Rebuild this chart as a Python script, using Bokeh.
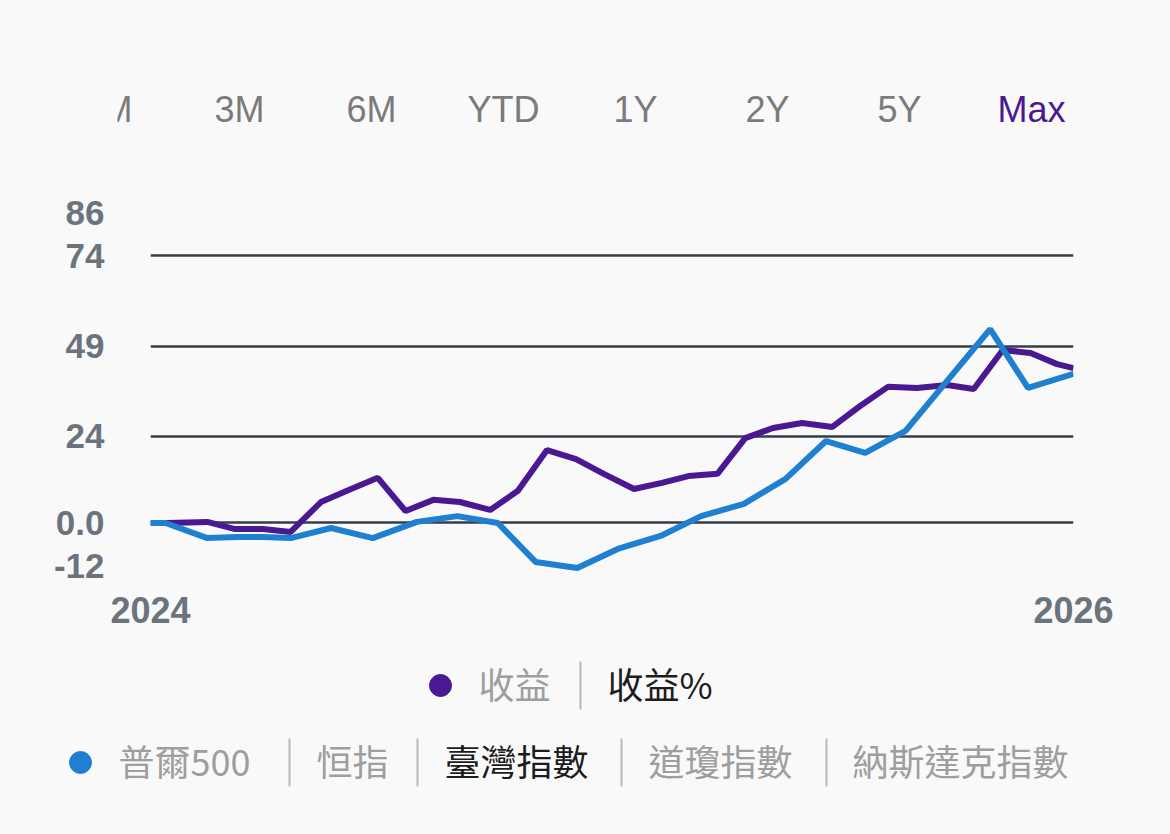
import pandas as pd
from bokeh.plotting import figure
from bokeh.layouts import column
from bokeh.models import Range1d, FixedTicker, CustomJSTickFormatter, ColumnDataSource
from bokeh.core.properties import value
from bokeh.embed import file_html
from bokeh.resources import INLINE

# ---- data -------------------------------------------------------------
range_tabs = ["1M", "3M", "6M", "YTD", "1Y", "2Y", "5Y", "Max"]
active_tab = "Max"

# portfolio return (%)
gain_dates = [
    "2024-01-01", "2024-01-14", "2024-02-15", "2024-03-08", "2024-03-30",
    "2024-04-21", "2024-05-15", "2024-06-06", "2024-06-29", "2024-07-21",
    "2024-08-12", "2024-09-02", "2024-09-26", "2024-10-18", "2024-11-10",
    "2024-12-03", "2024-12-25", "2025-01-18", "2025-02-09", "2025-03-02",
    "2025-03-25", "2025-04-16", "2025-05-08", "2025-05-31", "2025-06-24",
    "2025-07-16", "2025-08-07", "2025-08-30", "2025-09-23", "2025-10-14",
    "2025-11-06", "2025-11-28", "2025-12-19", "2026-01-01",
]
gain_pct = [
    0.0, 0.0, 0.3, -1.7, -1.7, -2.5, 5.8, 9.1, 12.5, 3.3,
    6.4, 5.8, 3.6, 8.9, 20.2, 17.7, 13.6, 9.4, 11.1, 13.0,
    13.6, 23.5, 26.3, 27.7, 26.6, 32.4, 37.7, 37.4, 38.2, 37.1,
    47.9, 47.1, 44.0, 42.9,
]

# benchmark index return (%)
index_dates = [
    "2024-01-01", "2024-01-13", "2024-02-15", "2024-03-10", "2024-03-30",
    "2024-04-21", "2024-05-23", "2024-06-25", "2024-07-30", "2024-08-31",
    "2024-10-02", "2024-11-01", "2024-12-04", "2025-01-05", "2025-02-08",
    "2025-03-12", "2025-04-15", "2025-05-18", "2025-06-19", "2025-07-20",
    "2025-08-21", "2025-10-27", "2025-11-26", "2026-01-01",
]
index_pct = [
    0.0, 0.0, -4.2, -3.9, -3.9, -4.2, -1.4, -4.2, 0.3, 1.9,
    0.0, -10.8, -12.5, -7.2, -3.6, 1.9, 5.3, 12.2, 22.7, 19.4,
    25.5, 53.7, 37.4, 41.3,
]

y_ticks = [-12, 0, 24, 49, 74, 86]
grid_levels = [0, 24, 49, 74]
x_start, x_end = "2024-01-01", "2026-01-01"

metric_labels = ["收益", "收益%"]
active_metric = "收益%"
index_labels = ["普爾500", "恒指", "臺灣指數", "道瓊指數", "納斯達克指數"]
active_index = "臺灣指數"

# ---- styles -----------------------------------------------------------
W = 1170
BG = "#f9f9f9"
PURPLE = "#4a1890"
BLUE = "#1f7fd0"
AXIS_TEXT = "#6b747d"
GRID = "#353e47"
MUTED = "#9e9e9e"
DARK = "#1c1c1c"
SEP = "#b8b8b8"
LATIN = value("Liberation Sans")
CJK = value("Noto Sans CJK TC")


def blank(height, x_range, y_range, **kw):
    # a bare canvas whose data units are pixels; its frame is not aligned
    # with the chart's frame in the column layout
    f = figure(width=W, height=height, x_range=x_range, y_range=y_range,
               x_axis_type=None, y_axis_type=None, toolbar_location=None,
               output_backend="svg", background_fill_color=BG,
               border_fill_color=BG, outline_line_color=None,
               min_border=0, frame_align=False, **kw)
    return f


# ---- range selector -----------------------------------------------------
TAB_H = 160
tabs = blank(TAB_H, Range1d(117, W), Range1d(TAB_H, 0), min_border_left=117)
tab_x = [107 + 132 * i for i in range(len(range_tabs))]
tabs.text(x=tab_x, y=[109] * len(range_tabs), text=range_tabs,
          text_color=[PURPLE if t == active_tab else "#7b7b7b" for t in range_tabs],
          text_font=LATIN, text_font_size="36px",
          text_align="center", text_baseline="middle")

# ---- main chart -------------------------------------------------------
MAIN_H = 480
main = figure(width=W, height=MAIN_H, x_axis_type="datetime",
              x_range=Range1d(pd.Timestamp(x_start), pd.Timestamp(x_end)),
              y_range=Range1d(-14, 86),
              toolbar_location=None, output_backend="svg",
              background_fill_color=BG, border_fill_color=BG,
              outline_line_color=None, frame_align=False,
              min_border_left=150, min_border_right=97,
              min_border_top=52, min_border_bottom=67)

for ax in (main.xaxis[0], main.yaxis[0]):
    ax.axis_line_color = None
    ax.major_tick_line_color = None
    ax.minor_tick_line_color = None
    ax.major_tick_out = 0
    ax.major_tick_in = 0
    ax.minor_tick_out = 0
    ax.major_label_text_font = "Liberation Sans"
    ax.major_label_text_font_style = "bold"
    ax.major_label_text_color = AXIS_TEXT

main.yaxis.ticker = FixedTicker(ticks=y_ticks)
main.yaxis.formatter = CustomJSTickFormatter(
    code="return tick == 0 ? '0.0' : String(tick);")
main.yaxis.major_label_standoff = 46
main.yaxis.major_label_text_font_size = "35px"

ms = [pd.Timestamp(x_start).value // 10**6, pd.Timestamp(x_end).value // 10**6]
main.xaxis.ticker = FixedTicker(ticks=ms)
main.xaxis.formatter = CustomJSTickFormatter(
    code="return String(new Date(tick).getUTCFullYear());")
main.xaxis.major_label_standoff = 23
main.xaxis.major_label_text_font_size = "36px"

main.xgrid.visible = False
main.ygrid.ticker = FixedTicker(ticks=grid_levels)
main.ygrid.grid_line_color = GRID
main.ygrid.grid_line_width = 2.5

gain_src = ColumnDataSource(dict(date=pd.to_datetime(gain_dates), pct=gain_pct))
index_src = ColumnDataSource(dict(date=pd.to_datetime(index_dates), pct=index_pct))
main.line("date", "pct", source=gain_src, line_color=PURPLE, line_width=6)
main.line("date", "pct", source=index_src, line_color=BLUE, line_width=6)

# ---- series pickers ---------------------------------------------------
LEG_H = 834 - TAB_H - MAIN_H
legend = blank(LEG_H, Range1d(0, W), Range1d(LEG_H, 0))

row1_y, row2_y = 45, 122
text_lift = 3  # CJK glyphs sit a little low on a "middle" baseline

legend.scatter(x=[440], y=[row1_y], size=22, color=PURPLE)
legend.text(x=[478, 607], y=[row1_y - text_lift] * 2, text=metric_labels,
            text_color=[DARK if m == active_metric else MUTED for m in metric_labels],
            text_font=CJK, text_font_size="36px",
            text_align="left", text_baseline="middle")
legend.segment(x0=[580], y0=[row1_y - 24], x1=[580], y1=[row1_y + 24],
               line_color=SEP, line_width=2)

legend.scatter(x=[80], y=[row2_y], size=22, color=BLUE)
legend.text(x=[118, 316, 444, 648, 852], y=[row2_y - text_lift] * len(index_labels),
            text=index_labels,
            text_color=[DARK if s == active_index else MUTED for s in index_labels],
            text_font=CJK, text_font_size="36px",
            text_align="left", text_baseline="middle")
sep_x = [289, 417, 621, 826]
legend.segment(x0=sep_x, y0=[row2_y - 24] * 4, x1=sep_x, y1=[row2_y + 24] * 4,
               line_color=SEP, line_width=2)

layout = column(tabs, main, legend, spacing=0,
                styles={"background-color": BG})
open("out.html", "w").write(file_html(layout, INLINE))
